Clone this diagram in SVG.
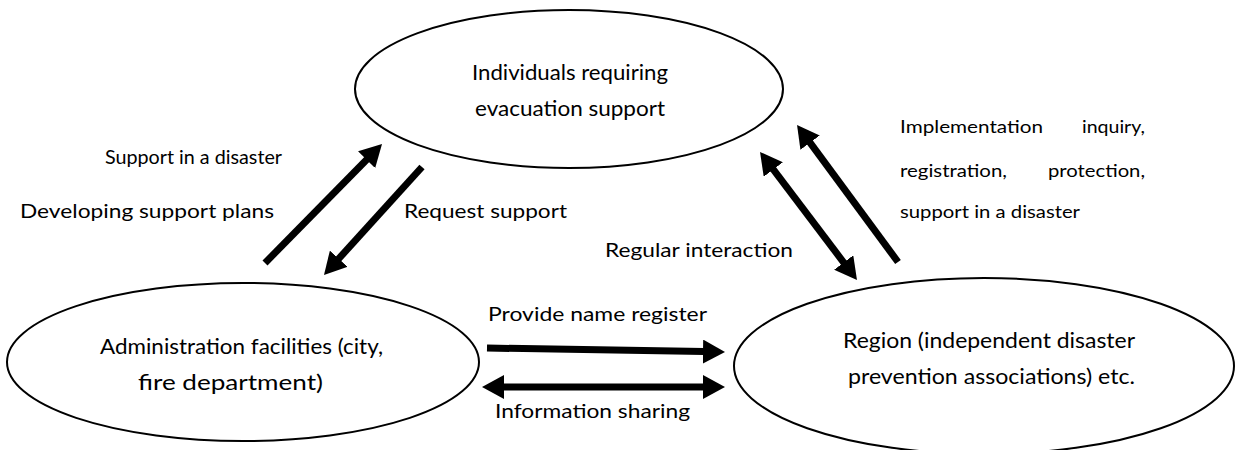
<svg xmlns="http://www.w3.org/2000/svg" width="1236" height="450" viewBox="0 0 1236 450">
<style>
.node{fill:#fff;stroke:#000;stroke-width:2}
.t{font-family:Lato,"Open Sans","Liberation Sans",sans-serif;fill:#000}
.nt{font-size:21px}
.lb{font-size:20px}
.sm{font-size:18px}
.ar{stroke:#000;stroke-width:7;fill:none}
</style>
<defs>
<marker id="head" viewBox="0 0 22 24" refX="1" refY="12" markerWidth="22" markerHeight="24" markerUnits="userSpaceOnUse" orient="auto-start-reverse">
<path d="M0,0 L22,12 L0,24 Z" fill="#000"/>
</marker>
</defs>
<rect width="1236" height="450" fill="#fff"/>
<g id="node-individuals">
<ellipse class="node" cx="569" cy="89" rx="214" ry="79"/>
<text class="t nt" x="570" y="80" text-anchor="middle" textLength="196" lengthAdjust="spacingAndGlyphs">Individuals requiring</text>
<text class="t nt" x="570" y="116" text-anchor="middle" textLength="190" lengthAdjust="spacingAndGlyphs">evacuation support</text>
</g>
<g id="node-admin">
<ellipse class="node" cx="243" cy="362" rx="236" ry="79"/>
<text class="t nt" x="100" y="354" textLength="283" lengthAdjust="spacingAndGlyphs">Administration facilities (city,</text>
<text class="t nt" x="138" y="390" textLength="185" lengthAdjust="spacingAndGlyphs">fire department)</text>
</g>
<g id="node-region">
<ellipse class="node" cx="984" cy="366" rx="250" ry="88"/>
<text class="t nt" x="843" y="348" textLength="292" lengthAdjust="spacingAndGlyphs">Region (independent disaster</text>
<text class="t nt" x="848" y="384" textLength="287" lengthAdjust="spacingAndGlyphs">prevention associations) etc.</text>
</g>
<g id="connectors">
<line class="ar" x1="265" y1="263" x2="367.3" y2="159" marker-end="url(#head)"/>
<line class="ar" x1="422" y1="167" x2="338.1" y2="259.4" marker-end="url(#head)"/>
<line class="ar" x1="772.7" y1="168.7" x2="844.3" y2="263.3" marker-start="url(#head)" marker-end="url(#head)"/>
<line class="ar" x1="898" y1="262" x2="809.5" y2="141.9" marker-end="url(#head)"/>
<line class="ar" x1="487" y1="348" x2="704" y2="351.6" marker-end="url(#head)"/>
<line class="ar" x1="503" y1="387" x2="704" y2="387" marker-start="url(#head)" marker-end="url(#head)"/>
</g>
<g id="labels">
<text class="t lb" x="105" y="164" textLength="177" lengthAdjust="spacingAndGlyphs">Support in a disaster</text>
<text class="t lb" x="20" y="218" textLength="254" lengthAdjust="spacingAndGlyphs">Developing support plans</text>
<text class="t lb" x="404" y="218" textLength="163" lengthAdjust="spacingAndGlyphs">Request support</text>
<text class="t lb" x="605" y="257" textLength="188" lengthAdjust="spacingAndGlyphs">Regular interaction</text>
<text class="t lb" x="488" y="321" textLength="219" lengthAdjust="spacingAndGlyphs">Provide name register</text>
<text class="t lb" x="495" y="418" textLength="195" lengthAdjust="spacingAndGlyphs">Information sharing</text>
<text class="t sm" x="900" y="133" textLength="143" lengthAdjust="spacingAndGlyphs">Implementation</text>
<text class="t sm" x="1082" y="133" textLength="63" lengthAdjust="spacingAndGlyphs">inquiry,</text>
<text class="t sm" x="900" y="177" textLength="107" lengthAdjust="spacingAndGlyphs">registration,</text>
<text class="t sm" x="1048" y="177" textLength="97" lengthAdjust="spacingAndGlyphs">protection,</text>
<text class="t sm" x="900" y="218" textLength="180" lengthAdjust="spacingAndGlyphs">support in a disaster</text>
</g>
</svg>
